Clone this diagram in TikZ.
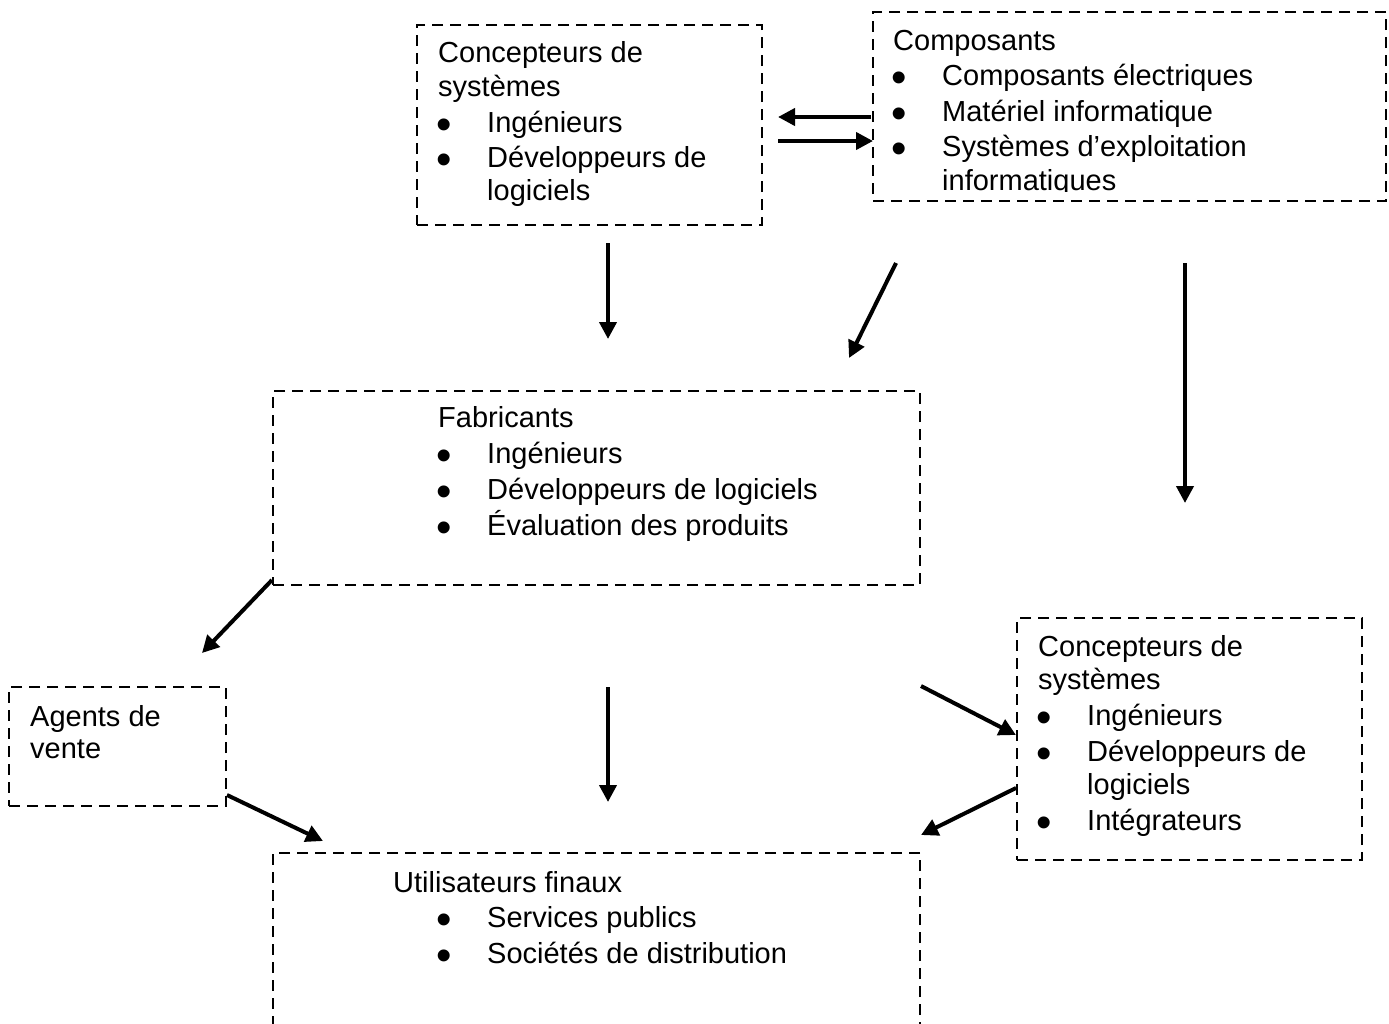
\documentclass[tikz,border=0pt]{standalone}
\usepackage{fontspec}
\setmainfont{Liberation Sans}
\usetikzlibrary{arrows.meta}
\begin{document}
\begin{tikzpicture}[x=1pt,y=-1pt,
  box/.style={draw, line width=2.9pt, dash pattern=on 11pt off 7pt, inner sep=0pt, rectangle},
  txt/.style={anchor=base west, inner sep=0pt, font=\fontsize{29}{35}\selectfont},
  bul/.style={anchor=base west, inner sep=0pt, font=\fontsize{44}{44}\selectfont},
  arr/.style={line width=4pt, -{Triangle[length=17pt,width=17pt]}}]
\path[use as bounding box] (0,0) rectangle (1389,1023);
\clip (0,0) rectangle (1389,1023);
\newcommand{\bu}[3]{\node[bul] (#3) at (#1-2,#2) {\smash{\raisebox{-7pt}{•}}};}
% boxes
\node[box, minimum width=345pt, minimum height=200pt] (b1) at (589.5,125) {};
\node[box, minimum width=513pt, minimum height=189pt] (b2) at (1129.5,106.5) {};
\node[box, minimum width=647pt, minimum height=194pt] (b3) at (596.5,488) {};
\node[box, minimum width=217pt, minimum height=119pt] (b4) at (117.5,746.5) {};
\node[box, minimum width=345pt, minimum height=242pt] (b5) at (1189.5,739) {};
\node[box, minimum width=647pt, minimum height=217pt] (b6) at (596.5,961.5) {};
% box 1
\node[txt] (t1a) at (438,62) {Concepteurs de};
\node[txt] (t1b) at (438,96) {systèmes};
\bu{438}{132}{u1a}
\node[txt] (t1c) at (487,132) {Ingénieurs};
\bu{438}{167}{u1b}
\node[txt] (t1d) at (487,167) {Développeurs de};
\node[txt] (t1e) at (487,200) {logiciels};
% box 2
\begin{scope}
\clip (873,12) rectangle (1386,191.5);
\node[txt] (t2a) at (893,50) {Composants};
\bu{893}{85}{u2a}
\node[txt] (t2b) at (942,85) {Composants électriques};
\bu{893}{121}{u2b}
\node[txt] (t2c) at (942,121) {Matériel informatique};
\bu{893}{156}{u2c}
\node[txt] (t2d) at (942,156) {Systèmes d’exploitation};
\node[txt] (t2e) at (942,190) {informatiques};
\end{scope}
% box 3
\node[txt] (t3a) at (438,427) {Fabricants};
\bu{438}{463}{u3a}
\node[txt] (t3b) at (487,463) {Ingénieurs};
\bu{438}{499}{u3b}
\node[txt] (t3c) at (487,499) {Développeurs de logiciels};
\bu{438}{535}{u3c}
\node[txt] (t3d) at (487,535) {Évaluation des produits};
% box 4
\node[txt] (t4a) at (30,726) {Agents de};
\node[txt] (t4b) at (30,758) {vente};
% box 5
\node[txt] (t5a) at (1038,656) {Concepteurs de};
\node[txt] (t5b) at (1038,689) {systèmes};
\bu{1038}{725}{u5a}
\node[txt] (t5c) at (1087,725) {Ingénieurs};
\bu{1038}{761}{u5b}
\node[txt] (t5d) at (1087,761) {Développeurs de};
\node[txt] (t5e) at (1087,794) {logiciels};
\bu{1038}{830}{u5c}
\node[txt] (t5f) at (1087,830) {Intégrateurs};
% box 6
\node[txt] (t6a) at (393,892) {Utilisateurs finaux};
\bu{438}{927}{u6a}
\node[txt] (t6b) at (487,927) {Services publics};
\bu{438}{963}{u6b}
\node[txt] (t6c) at (487,963) {Sociétés de distribution};
% arrow end points
\coordinate (a1s) at (871,117); \coordinate (a1e) at (778,117);
\coordinate (a2s) at (778,141); \coordinate (a2e) at (873,141);
\coordinate (a3s) at (608,243); \coordinate (a3e) at (608,339);
\coordinate (a4s) at (896,263); \coordinate (a4e) at (849,358);
\coordinate (a5s) at (1185,263); \coordinate (a5e) at (1185,503);
\coordinate (a6s) at (272,580); \coordinate (a6e) at (202,653);
\coordinate (a7s) at (608,687); \coordinate (a7e) at (608,802);
\coordinate (a8s) at (921,686); \coordinate (a8e) at (1016,735);
\coordinate (a9s) at (227,795); \coordinate (a9e) at (323,841);
\coordinate (a10s) at (1016,788); \coordinate (a10e) at (921,835);
\draw[arr] (a1s) -- (a1e);
\draw[arr] (a2s) -- (a2e);
\draw[arr] (a3s) -- (a3e);
\draw[arr] (a4s) -- (a4e);
\draw[arr] (a5s) -- (a5e);
\draw[arr] (a6s) -- (a6e);
\draw[arr] (a7s) -- (a7e);
\draw[arr] (a8s) -- (a8e);
\draw[arr] (a9s) -- (a9e);
\draw[arr] (a10s) -- (a10e);
\end{tikzpicture}
\end{document}
